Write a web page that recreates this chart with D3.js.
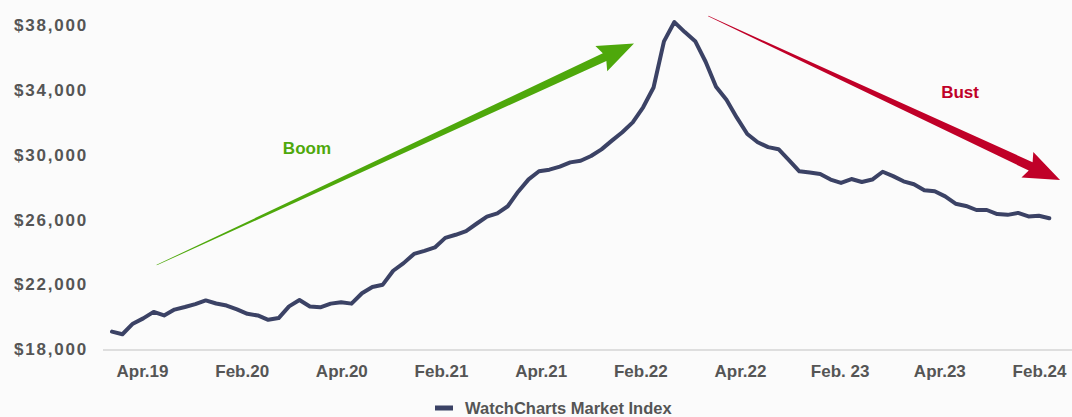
<!DOCTYPE html>
<html>
<head>
<meta charset="utf-8">
<script src="https://cdn.jsdelivr.net/npm/d3@7/dist/d3.min.js"></script>
<style>
  html, body { margin: 0; padding: 0; background: #fbfbfb; }
  svg { display: block; font-family: "Liberation Sans", Arial, sans-serif; }
</style>
</head>
<body>
<svg id="chart" width="1072" height="417"></svg>
<script>
// WatchCharts Market Index, one reading per step along the timeline
const indexValues = [
  19040, 18880, 19530, 19860, 20260, 20040, 20400, 20560, 20740, 20970,
  20780, 20650, 20410, 20140, 20040, 19770, 19880, 20600, 20990, 20590,
  20540, 20770, 20860, 20770, 21410, 21800, 21940, 22800, 23270, 23840,
  24030, 24240, 24830, 25020, 25250, 25700, 26140, 26340, 26780, 27680,
  28440, 28940, 29040, 29230, 29490, 29590, 29880, 30290, 30830, 31350,
  31960, 32890, 34110, 36960, 38150, 37530, 36970, 35700, 34160, 33350,
  32250, 31240, 30730, 30430, 30300, 29630, 28940, 28860, 28770, 28430,
  28220, 28460, 28280, 28430, 28910, 28640, 28320, 28140, 27770, 27710,
  27390, 26940, 26800, 26550, 26550, 26300, 26250, 26370, 26150, 26190,
  26040
];

const xTickLabels = ["Apr.19", "Feb.20", "Apr.20", "Feb.21", "Apr.21",
                     "Feb.22", "Apr.22", "Feb. 23", "Apr.23", "Feb.24"];
const yTickValues = [18000, 22000, 26000, 30000, 34000, 38000];
const seriesName = "WatchCharts Market Index";

// Trend annotations, in data units: [step, value]
const boomArrow = { from: [4.29, 23150], to: [50.12, 36830] };
const bustArrow = { from: [57.25, 38520], to: [91.03, 28400] };
const boomLabel = { text: "Boom", at: [18.72, 30380] };
const bustLabel = { text: "Bust", at: [81.43, 33830] };

const svg = d3.select("#chart");
const W = 1072, H = 417;

const x = d3.scaleLinear().domain([0, indexValues.length - 1]).range([112, 1049.3]);
const y = d3.scaleLinear().domain([18000, 38000]).range([348.5, 24.5]);
const xBand = d3.scalePoint().domain(xTickLabels).range([142, 1039]);

const lineColor = "#3b4265";
const green = "#4ea80b";
const red = "#c00028";
const textGray = "#555555";

// baseline
svg.append("line")
  .attr("x1", 103).attr("x2", W)
  .attr("y1", 350).attr("y2", 350)
  .attr("stroke", "#dedede").attr("stroke-width", 2);

// y axis labels
const yAxis = svg.append("g")
  .attr("transform", "translate(88,0)")
  .call(d3.axisLeft(y).tickValues(yTickValues).tickSize(0).tickPadding(0)
    .tickFormat(v => "$" + d3.format(",")(v)));
yAxis.select(".domain").remove();
yAxis.selectAll("text")
  .attr("fill", textGray)
  .style("font-family", "'Liberation Sans', Arial, sans-serif")
  .style("font-weight", "bold")
  .style("font-size", "17px")
  .style("letter-spacing", "1.8px")
  .attr("dy", "0.36em");

// x axis labels
const xAxis = svg.append("g")
  .attr("transform", "translate(0,371)")
  .call(d3.axisBottom(xBand).tickSize(0).tickPadding(0));
xAxis.select(".domain").remove();
xAxis.selectAll("text")
  .attr("fill", textGray)
  .attr("dy", "0.36em")
  .style("font-family", "'Liberation Sans', Arial, sans-serif")
  .style("font-weight", "bold")
  .style("font-size", "17px");

// tapered arrow built in pixel space from two data-space points
function arrowPath(from, to, tailHalf, shaftHalf, headLen, headHalf) {
  const x0 = x(from[0]), y0 = y(from[1]);
  const x1 = x(to[0]), y1 = y(to[1]);
  const dx = x1 - x0, dy = y1 - y0;
  const len = Math.hypot(dx, dy);
  const ux = dx / len, uy = dy / len;
  const px = -uy, py = ux;
  const bx = x1 - ux * headLen * 0.9, by = y1 - uy * headLen * 0.9;
  const wx = x1 - ux * headLen, wy = y1 - uy * headLen;
  const pts = [
    [x0 + px * tailHalf, y0 + py * tailHalf],
    [bx + px * shaftHalf, by + py * shaftHalf],
    [wx + px * headHalf, wy + py * headHalf],
    [x1, y1],
    [wx - px * headHalf, wy - py * headHalf],
    [bx - px * shaftHalf, by - py * shaftHalf],
    [x0 - px * tailHalf, y0 - py * tailHalf]
  ];
  return "M" + pts.map(p => p[0].toFixed(2) + "," + p[1].toFixed(2)).join("L") + "Z";
}

svg.append("path")
  .attr("d", arrowPath(boomArrow.from, boomArrow.to, 0.3, 4.2, 36, 14))
  .attr("fill", green);
svg.append("path")
  .attr("d", arrowPath(bustArrow.from, bustArrow.to, 0.3, 4.6, 36, 14))
  .attr("fill", red);

svg.append("text")
  .attr("x", x(boomLabel.at[0])).attr("y", y(boomLabel.at[1]))
  .attr("dy", "0.36em").attr("text-anchor", "middle")
  .attr("fill", green)
  .style("font-weight", "bold").style("font-size", "17px")
  .text(boomLabel.text);
svg.append("text")
  .attr("x", x(bustLabel.at[0])).attr("y", y(bustLabel.at[1]))
  .attr("dy", "0.36em").attr("text-anchor", "middle")
  .attr("fill", red)
  .style("font-weight", "bold").style("font-size", "17px")
  .text(bustLabel.text);

// index line
const line = d3.line()
  .x((d, i) => x(i))
  .y(d => y(d));
svg.append("path")
  .datum(indexValues)
  .attr("d", line)
  .attr("fill", "none")
  .attr("stroke", lineColor)
  .attr("stroke-width", 4)
  .attr("stroke-linejoin", "round")
  .attr("stroke-linecap", "round");

// legend
const legend = svg.append("g").attr("transform", "translate(435,408)");
legend.append("rect")
  .attr("x", 0).attr("y", -2.5).attr("width", 18).attr("height", 5)
  .attr("fill", lineColor);
legend.append("text")
  .attr("x", 30).attr("y", 0).attr("dy", "0.36em")
  .attr("fill", textGray)
  .style("font-weight", "bold").style("font-size", "16.5px")
  .text(seriesName);
</script>
</body>
</html>
